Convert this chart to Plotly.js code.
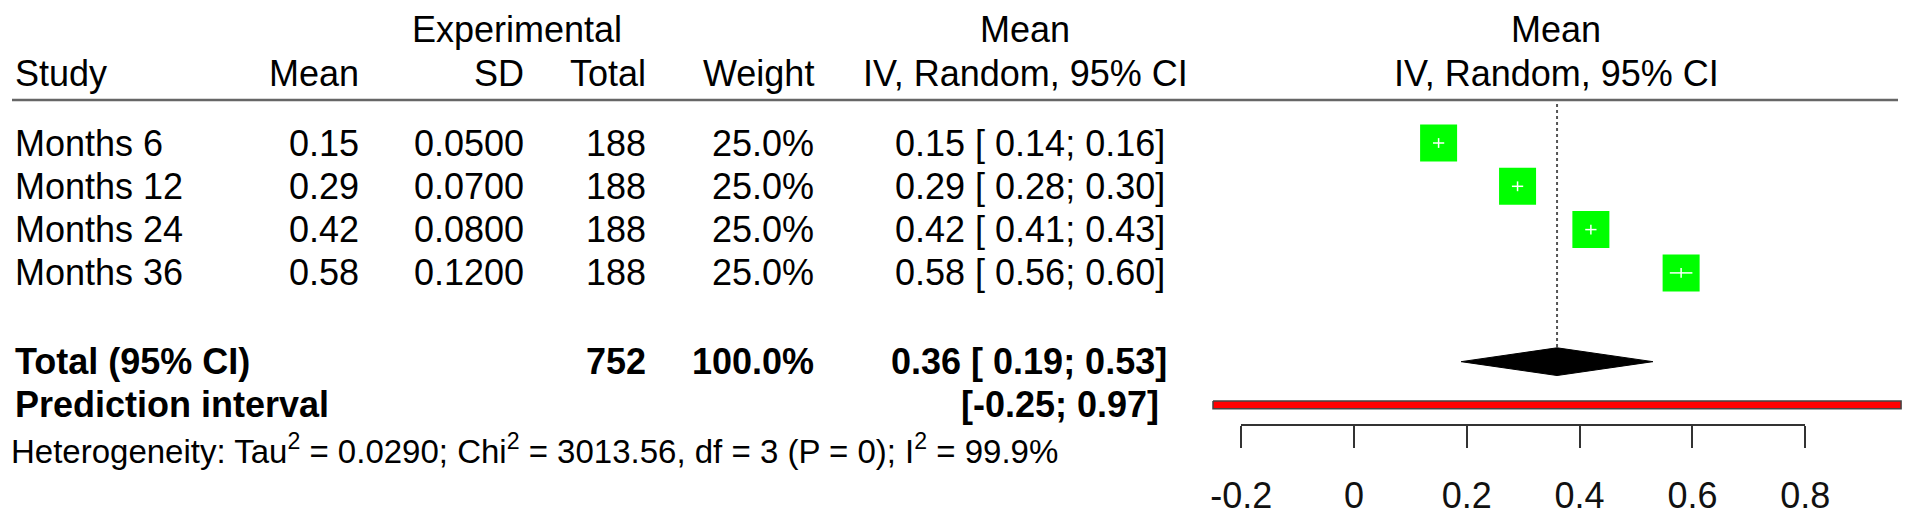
<!DOCTYPE html>
<html><head><meta charset="utf-8">
<script src="https://cdn.plot.ly/plotly-3.0.1.min.js"></script>
<style>html,body{margin:0;padding:0;background:#fff}</style>
</head><body><div id="chart" style="width:1913px;height:517px"></div>
<script>
// ---- data ----
const studies = ["Months 6", "Months 12", "Months 24", "Months 36"];
const means = [0.15, 0.29, 0.42, 0.58];
const sds = ["0.0500", "0.0700", "0.0800", "0.1200"];
const totals = [188, 188, 188, 188];
const weights = ["25.0%", "25.0%", "25.0%", "25.0%"];
const ciLower = [0.14, 0.28, 0.41, 0.56];
const ciUpper = [0.16, 0.30, 0.43, 0.60];
const pooledMean = 0.36, pooledLower = 0.19, pooledUpper = 0.53;
const pooledTotal = 752, pooledWeight = "100.0%";
const predLower = -0.25, predUpper = 0.97;
const tickVals = [-0.2, 0, 0.2, 0.4, 0.6, 0.8];
const tickLabels = ["-0.2", "0", "0.2", "0.4", "0.6", "0.8"];
const hetText = "Heterogeneity: Tau<sup>2</sup> = 0.0290; Chi<sup>2</sup> = 3013.56, df = 3 (P = 0); I<sup>2</sup> = 99.9%";

// ---- layout geometry ----
const W = 1913, H = 517;
const X0 = 1354, XS = 564;            // pixel of value 0, pixels per unit
const ROW1 = 143, PITCH = 43.3;        // pixel of first study row, row pitch
const rowOf = p => 1 + (p - ROW1) / PITCH;
const studyRows = studies.map((_, i) => i + 1);
const totalRow = 6.05, predRow = 7.05, hetRow = 8.07;
const hdr1 = rowOf(29), hdr2 = rowOf(73), hline = rowOf(100);
const px = p => p / W;
const FONT = "Liberation Sans, Arial, Helvetica, sans-serif";
const fmt = v => v.toFixed(2);

const traces = [];
// dotted pooled line
traces.push({x:[pooledMean, pooledMean], y:[rowOf(104), totalRow - 0.32], mode:"lines",
  line:{color:"#555", width:2, dash:"dot"}, hoverinfo:"skip", showlegend:false});
// squares
traces.push({x:means, y:studyRows, mode:"markers", type:"scatter",
  marker:{symbol:"square", size:37, color:"#00ff00", line:{width:0}}, hoverinfo:"skip", showlegend:false});
// CI lines (white inside squares)
const cx = [], cy = [];
means.forEach((m, i) => { cx.push(ciLower[i], ciUpper[i], null); cy.push(studyRows[i], studyRows[i], null); });
traces.push({x:cx, y:cy, mode:"lines", line:{color:"#ffffff", width:1.5}, hoverinfo:"skip", showlegend:false});
traces.push({x:means, y:studyRows, mode:"markers",
  marker:{symbol:"line-ns", size:7, line:{color:"#ffffff", width:1.5}}, hoverinfo:"skip", showlegend:false});
// diamond
const dh = 0.32;
traces.push({x:[pooledLower, pooledMean, pooledUpper, pooledMean, pooledLower],
  y:[totalRow, totalRow - dh, totalRow, totalRow + dh, totalRow],
  mode:"lines", fill:"toself", fillcolor:"#000", line:{color:"#000", width:1}, hoverinfo:"skip", showlegend:false});
// prediction interval bar
const ph = 0.09;
traces.push({x:[predLower, predUpper, predUpper, predLower, predLower],
  y:[predRow - ph, predRow - ph, predRow + ph, predRow + ph, predRow - ph],
  mode:"lines", fill:"toself", fillcolor:"#ff0000", line:{color:"#444", width:1.5}, hoverinfo:"skip", showlegend:false});
// dummy for visible axis
traces.push({x:[null], y:[null], xaxis:"x2", yaxis:"y", mode:"markers", hoverinfo:"skip", showlegend:false});

const anns = [];
function ann(text, xp, y, anchor, opts = {}) {
  anns.push({text, x:px(xp), xref:"paper", y, yref:"y", xanchor:anchor, yanchor:"middle",
    showarrow:false, font:{family:FONT, size:opts.size || 36, color:"#000"}, borderpad:0});
}
const B = t => "<b>" + t + "</b>";
// headers
ann("Experimental", 517, hdr1, "center");
ann("Mean", 1025, hdr1, "center");
ann("Mean", 1556, hdr1, "center");
ann("Study", 14, hdr2, "left");
ann("Mean", 360, hdr2, "right");
ann("SD", 525, hdr2, "right");
ann("Total", 647, hdr2, "right");
ann("Weight", 815, hdr2, "right");
ann("IV, Random, 95% CI", 1025, hdr2, "center");
ann("IV, Random, 95% CI", 1556, hdr2, "center");
// study rows
studies.forEach((s, i) => {
  const r = studyRows[i];
  ann(s, 14, r, "left");
  ann(fmt(means[i]), 360, r, "right");
  ann(sds[i], 525, r, "right");
  ann(String(totals[i]), 647, r, "right");
  ann(weights[i], 815, r, "right");
  ann(fmt(means[i]) + " [ " + fmt(ciLower[i]) + "; " + fmt(ciUpper[i]) + "]", 1166, r, "right");
});
// pooled
ann(B("Total (95% CI)"), 14, totalRow, "left");
ann(B(String(pooledTotal)), 647, totalRow, "right");
ann(B(pooledWeight), 815, totalRow, "right");
ann(B(fmt(pooledMean) + " [ " + fmt(pooledLower) + "; " + fmt(pooledUpper) + "]"), 1168, totalRow, "right");
ann(B("Prediction interval"), 14, predRow, "left");
ann(B("[" + fmt(predLower) + "; " + fmt(predUpper) + "]"), 1160, predRow, "right");
ann(hetText, 10, hetRow, "left", {size:33});

const layout = {
  width:W, height:H, margin:{l:0, r:0, t:0, b:0, pad:0},
  paper_bgcolor:"#fff", plot_bgcolor:"rgba(0,0,0,0)", showlegend:false,
  xaxis:{domain:[0,1], range:[-X0/XS, (W - X0)/XS], visible:false, fixedrange:true},
  xaxis2:{domain:[(X0 - 0.2*XS)/W, (X0 + 0.8*XS)/W], range:[-0.2, 0.8], anchor:"free", position:(H - 425)/H,
    side:"bottom", showline:true, linecolor:"#333", linewidth:2, ticks:"outside", ticklen:22, tickwidth:2,
    tickcolor:"#333", tickmode:"array", tickvals:tickVals, ticktext:tickLabels, showgrid:false, zeroline:false,
    ticklabelstandoff:17, tickfont:{family:FONT, size:36, color:"#111"}, fixedrange:true},
  yaxis:{domain:[0,1], range:[1 + (H - ROW1)/PITCH, 1 - ROW1/PITCH], visible:false, fixedrange:true},
  shapes:[{type:"line", xref:"paper", yref:"y", x0:px(12), x1:px(1898), y0:hline, y1:hline,
    line:{color:"#666", width:2.5}}],
  annotations:anns
};
Plotly.newPlot("chart", traces, layout, {displayModeBar:false, staticPlot:true});
</script></body></html>
